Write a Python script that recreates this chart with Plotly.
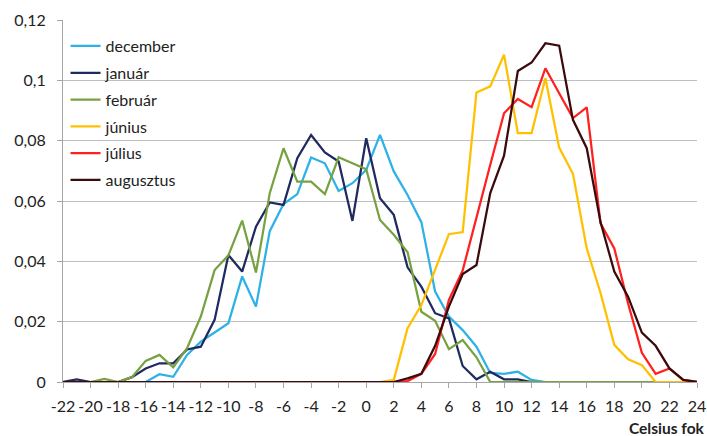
import plotly.graph_objects as go

temps = list(range(-22, 25))

december = [0, 0, 0, 0, 0, 0, 0,
            0.0026, 0.0017, 0.009, 0.0134, 0.0164, 0.0195, 0.035, 0.025, 0.050, 0.059,
            0.0623, 0.0744, 0.0725, 0.0633, 0.0659, 0.0703, 0.0819, 0.0698, 0.062, 0.053,
            0.030, 0.0217, 0.0172, 0.0117, 0.003, 0.0027, 0.0034, 0.0007,
            0, 0, 0, 0, 0, 0, 0, 0, 0, 0, 0, 0]
januar = [0, 0.0009, 0, 0, 0, 0.0016, 0.0045, 0.0062, 0.0062, 0.0108, 0.0117, 0.0206,
          0.0421, 0.0366, 0.0515, 0.0595, 0.0587, 0.0742, 0.0819, 0.0761, 0.0731, 0.0534,
          0.0808, 0.0609, 0.0554, 0.038, 0.0316, 0.0228, 0.0211, 0.0053, 0.0009, 0.0034,
          0.0009, 0.0009,
          0, 0, 0, 0, 0, 0, 0, 0, 0, 0, 0, 0, 0]
februar = [0, 0, 0, 0.001, 0, 0.0016, 0.007, 0.009, 0.0049, 0.0112, 0.0217, 0.0371,
           0.042, 0.0535, 0.0363, 0.0626, 0.0775, 0.0664, 0.0664, 0.0623, 0.0745, 0.0725,
           0.0705, 0.0537, 0.0488, 0.043, 0.0233, 0.0203, 0.0109, 0.0139, 0.0082,
           0, 0, 0, 0, 0, 0, 0, 0, 0, 0, 0, 0, 0, 0, 0, 0]
junius = [0, 0, 0, 0, 0, 0, 0, 0, 0, 0, 0, 0, 0, 0, 0, 0, 0, 0, 0, 0, 0, 0, 0, 0,
          0.0007, 0.0178, 0.0255, 0.037, 0.049, 0.0497, 0.096, 0.098, 0.1085, 0.0825,
          0.0825, 0.1007, 0.0777, 0.069, 0.0443, 0.0295, 0.0123, 0.0075, 0.0056,
          0, 0, 0, 0]
julius = [0, 0, 0, 0, 0, 0, 0, 0, 0, 0, 0, 0, 0, 0, 0, 0, 0, 0, 0, 0, 0, 0, 0, 0, 0,
          0.0003, 0.0027, 0.0093, 0.0272, 0.037, 0.055, 0.072, 0.0891, 0.0938, 0.0911,
          0.104, 0.0957, 0.0875, 0.091, 0.0526, 0.0443, 0.026, 0.0097, 0.0027, 0.0045,
          0.0007, 0]
augusztus = [0, 0, 0, 0, 0, 0, 0, 0, 0, 0, 0, 0, 0, 0, 0, 0, 0, 0, 0, 0, 0, 0, 0, 0,
             0, 0.0012, 0.0027, 0.012, 0.025, 0.0358, 0.0388, 0.0626, 0.075, 0.1031,
             0.1059, 0.1123, 0.1115, 0.0869, 0.0775, 0.053, 0.0366, 0.0283, 0.0164,
             0.012, 0.0045, 0.0007, 0]

series_names = ["december", "január", "február", "június", "július", "augusztus"]
series_values = [december, januar, februar, junius, julius, augusztus]
colors = ["#2EB1E6", "#1F2A5E", "#78A142", "#FFC000", "#FF2020", "#3A0A0C"]

y_tickvals = [0, 0.02, 0.04, 0.06, 0.08, 0.1, 0.12]
y_ticktext = ["0", "0,02", "0,04", "0,06", "0,08", "0,1", "0,12"]
x_tickvals = list(range(-22, 25, 2))
x_ticktext = [str(v) for v in x_tickvals]  # plain hyphen-minus, as in the reference

FONT = "Lato"

fig = go.Figure()
for name, vals, col in zip(series_names, series_values, colors):
    fig.add_trace(go.Scatter(
        x=temps, y=vals, mode="lines", name=name, legendgroup=name,
        line=dict(color=col, width=2.25),
    ))

fig.update_layout(
    width=707, height=436,
    margin=dict(l=63, r=10, t=20, b=54, autoexpand=False),
    paper_bgcolor="white", plot_bgcolor="white",
    font=dict(family=FONT, size=16, color="#222222"),
    showlegend=True,
    legend=dict(x=0.004, y=0.975, xanchor="left", yanchor="top",
                bgcolor="rgba(0,0,0,0)", font=dict(size=16, color="#222222"),
                tracegroupgap=3, itemwidth=30),
    xaxis=dict(range=[-22, 24], tickvals=x_tickvals, ticktext=x_ticktext,
               showgrid=False,
               showline=True, linecolor="#A6A6A6", linewidth=1,
               ticks="outside", ticklen=5, tickcolor="#A6A6A6", tickangle=0,
               ticklabelstandoff=5,
               tickfont=dict(size=16), zeroline=False, automargin=False),
    yaxis=dict(range=[0, 0.12], tickvals=y_tickvals, ticktext=y_ticktext,
               showgrid=True, gridcolor="#BFBFBF", gridwidth=1,
               showline=True, linecolor="#A6A6A6", linewidth=1,
               ticks="outside", ticklen=5, tickcolor="#A6A6A6",
               ticklabelstandoff=8, automargin=False,
               tickfont=dict(size=16), zeroline=False),
    annotations=[dict(text="<b>Celsius fok</b>", xref="paper", yref="paper",
                      x=1, y=-0.127, xanchor="right", yanchor="middle", xshift=10,
                      showarrow=False, font=dict(size=15.5, color="#222222"))],
)

fig.write_html("out.html", config={"displayModeBar": False},
               post_script="document.body.style.margin='0';document.body.style.padding='0';")
